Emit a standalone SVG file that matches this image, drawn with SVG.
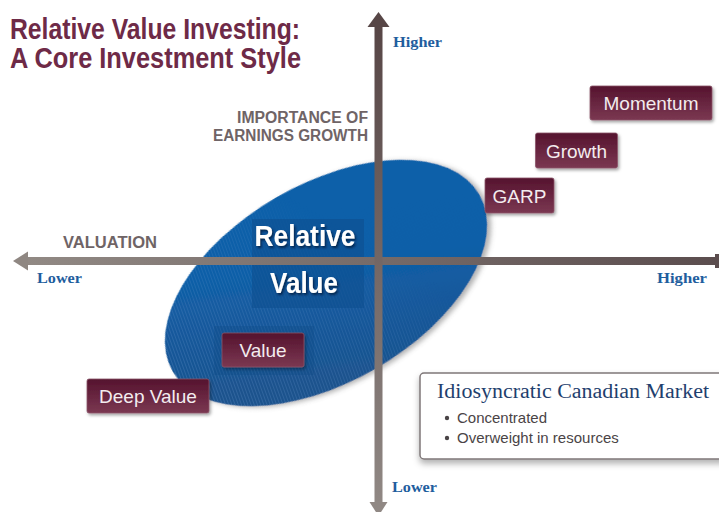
<svg xmlns="http://www.w3.org/2000/svg" width="719" height="512" viewBox="0 0 719 512">
<defs>
<style>
.title{font-family:"Liberation Sans",Arial,sans-serif;font-weight:bold;font-size:29px;fill:#6e2a47}
.axlab{font-family:"Liberation Sans",Arial,sans-serif;font-weight:bold;font-size:16px;fill:#6f6466}
.dir{font-family:"Liberation Serif","Times New Roman",serif;font-weight:bold;font-size:15.5px;fill:#1f5e9e}
.box{fill:url(#maroon);stroke:#8a5468;stroke-width:0.8;filter:url(#sh)}
.boxt{font-family:"Liberation Sans",Arial,sans-serif;font-size:19px;fill:#f3ecee;text-anchor:middle}
.rv{font-family:"Liberation Sans",Arial,sans-serif;font-weight:bold;font-size:29px;fill:#ffffff;text-anchor:middle;filter:url(#tsh)}
.bul{font-family:"Liberation Sans",Arial,sans-serif;font-size:15px;fill:#4a4446}
</style>
<linearGradient id="maroon" x1="0" y1="0" x2="0" y2="1">
<stop offset="0" stop-color="#55132e"/>
<stop offset="1" stop-color="#7b3852"/>
</linearGradient>
<linearGradient id="blue" x1="0.25" y1="0.85" x2="0.7" y2="0.25">
<stop offset="0" stop-color="#1b528d"/>
<stop offset="0.45" stop-color="#145a9e"/>
<stop offset="0.7" stop-color="#0f5fa8"/>
<stop offset="1" stop-color="#0e60a9"/>
</linearGradient>
<linearGradient id="vax" x1="0" y1="0" x2="0" y2="1">
<stop offset="0" stop-color="#574646"/>
<stop offset="1" stop-color="#908884"/>
</linearGradient>
<linearGradient id="hax" x1="0" y1="0" x2="1" y2="0">
<stop offset="0" stop-color="#918984"/>
<stop offset="1" stop-color="#5b4d4e"/>
</linearGradient>
<linearGradient id="fade" x1="0.2" y1="0.9" x2="0.75" y2="0.2">
<stop offset="0" stop-color="#fff" stop-opacity="1"/>
<stop offset="0.55" stop-color="#fff" stop-opacity="0.6"/>
<stop offset="0.8" stop-color="#fff" stop-opacity="0"/>
</linearGradient>
<mask id="m">
<rect x="140" y="150" width="360" height="270" fill="url(#fade)"/>
</mask>
<pattern id="lines" width="3" height="6" patternUnits="userSpaceOnUse" patternTransform="rotate(-20)">
<rect width="3" height="6" fill="none"/>
<line x1="1.5" y1="0" x2="1.5" y2="6" stroke="#6f9bd0" stroke-width="0.6"/>
</pattern>
<clipPath id="ec">
<ellipse cx="326" cy="283" rx="177" ry="99" transform="rotate(-30 326 283)"/>
</clipPath>
<filter id="sh" x="-20%" y="-30%" width="140%" height="170%">
<feDropShadow dx="1.5" dy="2" stdDeviation="1.5" flood-color="#000" flood-opacity="0.35"/>
</filter>
<filter id="esh" x="-10%" y="-10%" width="120%" height="125%">
<feDropShadow dx="3" dy="3" stdDeviation="2.5" flood-color="#555" flood-opacity="0.45"/>
</filter>
<filter id="tsh" x="-10%" y="-20%" width="130%" height="150%">
<feDropShadow dx="1.5" dy="2" stdDeviation="1.2" flood-color="#001a3a" flood-opacity="0.8"/>
</filter>
<filter id="ish" x="-5%" y="-20%" width="110%" height="150%">
<feDropShadow dx="0" dy="4" stdDeviation="3" flood-color="#000" flood-opacity="0.3"/>
</filter>
</defs>

<g id="title">
<text class="title" x="10" y="39" textLength="290" lengthAdjust="spacingAndGlyphs">Relative Value Investing:</text>
<text class="title" x="10" y="68" textLength="291" lengthAdjust="spacingAndGlyphs">A Core Investment Style</text>
</g>

<g id="relative-value">
<ellipse cx="326" cy="283" rx="177" ry="99" transform="rotate(-30 326 283)" fill="url(#blue)" filter="url(#esh)"/>
<g clip-path="url(#ec)">
<rect x="140" y="150" width="360" height="270" fill="url(#lines)" opacity="0.45" mask="url(#m)"/>
</g>
<rect x="252" y="219" width="112" height="89" fill="#0e4f90" opacity="0.6"/>
<rect x="214" y="326" width="100" height="49" fill="#0f4a88" opacity="0.35"/>
</g>

<g id="connectors">
<g id="h-axis" fill="url(#hax)">
<rect x="27" y="257" width="692" height="8"/>
<polygon points="13,261 28,251.5 28,270.5" fill="#8f8782"/>
<rect x="715" y="254" width="4" height="14" fill="#5b4d4e"/>
</g>
<g id="v-axis">
<rect x="374.5" y="26" width="8" height="478" fill="url(#vax)"/>
<polygon points="378.5,12 367.5,27 389.5,27" fill="#574646"/>
<polygon points="378.5,516 369.5,502 387.5,502" fill="#908884"/>
</g>
</g>

<g id="axis-labels">
<text class="axlab" x="368" y="123" text-anchor="end" textLength="131" lengthAdjust="spacingAndGlyphs">IMPORTANCE OF</text>
<text class="axlab" x="368" y="141" text-anchor="end" textLength="155" lengthAdjust="spacingAndGlyphs">EARNINGS GROWTH</text>
<text class="axlab" x="63" y="248" textLength="94" lengthAdjust="spacingAndGlyphs">VALUATION</text>
<text class="dir" x="37" y="283" textLength="45" lengthAdjust="spacingAndGlyphs">Lower</text>
<text class="dir" x="657" y="283" textLength="50" lengthAdjust="spacingAndGlyphs">Higher</text>
<text class="dir" x="393" y="47" textLength="49" lengthAdjust="spacingAndGlyphs">Higher</text>
<text class="dir" x="392" y="492" textLength="45" lengthAdjust="spacingAndGlyphs">Lower</text>
</g>

<g id="rv-label">
<text class="rv" x="305" y="246" textLength="101" lengthAdjust="spacingAndGlyphs">Relative</text>
<text class="rv" x="304" y="293" textLength="68" lengthAdjust="spacingAndGlyphs">Value</text>
</g>

<g id="momentum">
<rect class="box" x="590" y="86" width="122" height="34" rx="2"/>
<text class="boxt" x="651" y="110">Momentum</text>
</g>
<g id="growth">
<rect class="box" x="535.5" y="133" width="82" height="35" rx="2"/>
<text class="boxt" x="576.5" y="158">Growth</text>
</g>
<g id="garp">
<rect class="box" x="485" y="178" width="69" height="35" rx="2"/>
<text class="boxt" x="519.5" y="203">GARP</text>
</g>
<g id="value">
<rect class="box" x="222" y="333" width="82" height="34" rx="2"/>
<text class="boxt" x="263" y="357">Value</text>
</g>
<g id="deep-value">
<rect class="box" x="87" y="379" width="122" height="34" rx="2"/>
<text class="boxt" x="148" y="403">Deep Value</text>
</g>

<g id="canadian-market">
<rect x="420" y="373" width="310" height="86" rx="4" fill="#ffffff" stroke="#7f7778" stroke-width="1.5" filter="url(#ish)"/>
<text x="437" y="398" font-family="'Liberation Serif','Times New Roman',serif" font-size="20" fill="#1f3f6e" textLength="272" lengthAdjust="spacingAndGlyphs">Idiosyncratic Canadian Market</text>
<circle cx="447" cy="418" r="2.2" fill="#4a4446"/>
<text class="bul" x="457" y="423">Concentrated</text>
<circle cx="447" cy="438" r="2.2" fill="#4a4446"/>
<text class="bul" x="457" y="443">Overweight in resources</text>
</g>
</svg>
